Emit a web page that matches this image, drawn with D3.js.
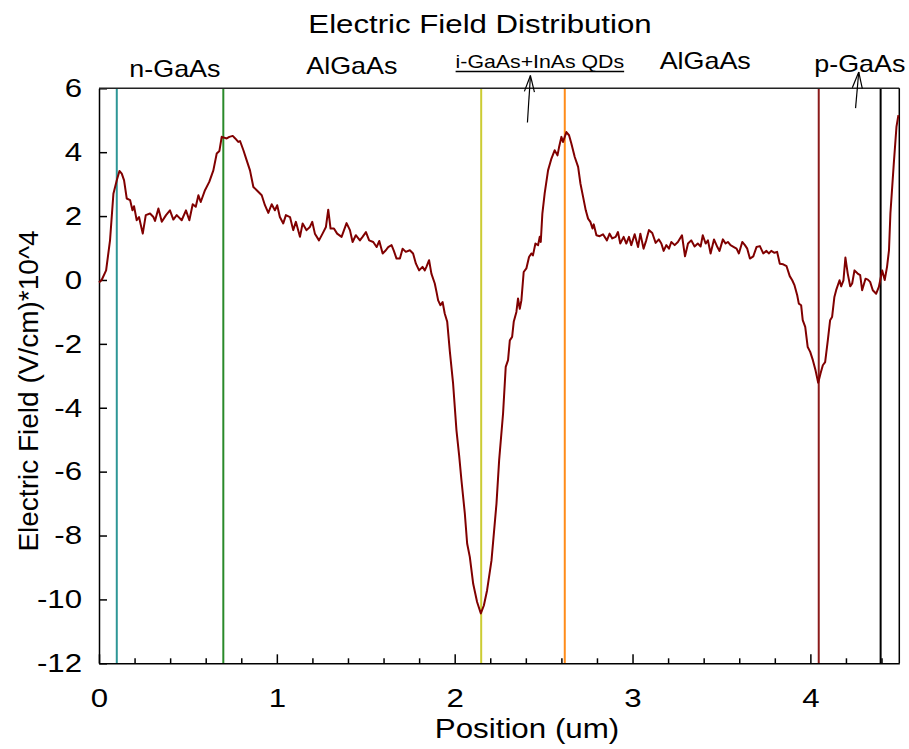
<!DOCTYPE html>
<html>
<head>
<meta charset="utf-8">
<script src="https://cdn.jsdelivr.net/npm/d3@7"></script>
<style>
  html, body { margin: 0; padding: 0; background: #fff; }
  svg text { font-family: "Liberation Sans", Arial, Helvetica, sans-serif; fill: #000; }
</style>
</head>
<body>
<svg id="chart" width="909" height="749"></svg>
<script>
// Electric field profile across the p-i-n stack, position in um, field in 10^4 V/cm
const position = [
  0.000,0.015,0.040,0.062,0.081,0.100,0.115,0.128,0.141,0.156,0.175,0.188,0.197,0.212,0.225,0.246,0.263,0.287,0.306,0.315,
  0.334,0.353,0.377,0.399,0.418,0.437,0.465,0.489,0.508,0.527,0.544,0.559,0.572,0.596,0.620,0.643,0.662,0.677,0.690,0.718,
  0.733,0.752,0.766,0.783,0.793,0.812,0.830,0.849,0.868,0.887,0.915,0.933,0.952,0.971,0.989,1.002,1.017,1.036,1.051,1.074,
  1.092,1.107,1.130,1.145,1.167,1.186,1.199,1.214,1.237,1.257,1.276,1.289,1.302,1.321,1.339,1.364,1.392,1.411,1.426,1.444,
  1.467,1.482,1.501,1.519,1.542,1.561,1.576,1.595,1.613,1.626,1.645,1.658,1.673,1.692,1.707,1.725,1.748,1.766,1.782,1.800,
  1.819,1.832,1.841,1.856,1.869,1.888,1.898,1.907,1.920,1.932,1.944,1.958,1.973,1.991,2.010,2.025,2.038,2.057,2.070,2.085,
  2.104,2.126,2.147,2.164,2.182,2.207,2.235,2.250,2.272,2.287,2.300,2.310,2.323,2.332,2.347,2.356,2.366,2.375,2.388,2.403,
  2.418,2.431,2.440,2.454,2.469,2.478,2.484,2.493,2.506,2.525,2.544,2.562,2.578,2.587,2.600,2.609,2.628,2.643,2.656,2.675,
  2.694,2.707,2.722,2.737,2.750,2.763,2.775,2.782,2.797,2.815,2.834,2.856,2.871,2.886,2.905,2.918,2.931,2.950,2.965,2.980,
  2.993,3.012,3.031,3.044,3.062,3.077,3.092,3.111,3.130,3.148,3.162,3.175,3.190,3.205,3.218,3.237,3.255,3.278,3.295,3.312,
  3.330,3.349,3.367,3.383,3.395,3.411,3.424,3.439,3.458,3.477,3.489,3.508,3.523,3.536,3.551,3.570,3.585,3.598,3.617,3.632,
  3.645,3.660,3.679,3.697,3.716,3.735,3.753,3.766,3.780,3.798,3.813,3.828,3.847,3.866,3.884,3.898,3.911,3.926,3.935,3.948,
  3.957,3.971,3.985,3.999,4.014,4.029,4.044,4.057,4.070,4.083,4.098,4.111,4.122,4.135,4.145,4.164,4.173,4.186,4.197,4.210,
  4.224,4.235,4.248,4.266,4.280,4.291,4.310,4.323,4.336,4.351,4.370,4.385,4.404,4.418,4.431,4.442,4.450,4.469,4.484,4.495
];
const field = [
  -0.08,0.00,0.30,1.24,2.70,3.12,3.41,3.33,3.12,2.55,2.50,2.18,2.31,1.87,1.97,1.45,2.03,2.08,1.97,1.85,
  2.24,1.82,2.03,2.18,1.89,2.03,1.87,2.18,1.87,2.37,2.29,2.65,2.44,2.81,3.07,3.43,3.96,4.04,4.48,4.43,
  4.48,4.51,4.43,4.32,4.35,4.06,3.75,3.43,2.91,2.81,2.65,2.34,2.10,2.37,2.18,2.34,1.97,1.77,2.03,1.97,
  1.56,1.82,1.35,1.77,1.56,1.66,1.82,1.45,1.24,1.45,1.66,2.20,1.61,1.61,1.45,1.35,1.78,1.56,1.19,1.40,
  1.24,1.35,1.50,1.24,1.19,1.03,1.22,0.83,0.93,1.03,1.09,0.91,0.67,0.67,0.98,0.88,0.93,0.83,0.51,0.30,
  0.41,0.30,0.41,0.62,0.20,-0.11,-0.38,-0.64,-0.79,-0.69,-1.05,-1.31,-2.25,-3.24,-4.71,-5.49,-6.27,-7.31,-8.25,-8.67,
  -9.51,-10.08,-10.44,-10.19,-9.72,-8.78,-7.00,-5.64,-4.18,-2.72,-2.51,-1.89,-1.78,-1.31,-1.00,-0.58,-0.90,-0.64,0.25,0.36,
  0.72,0.83,0.77,1.14,1.09,1.35,1.19,2.08,2.71,3.43,3.80,4.06,3.90,4.16,4.48,4.32,4.63,4.53,4.27,3.85,
  3.54,3.02,2.60,2.18,1.92,1.82,1.61,1.74,1.40,1.37,1.43,1.24,1.45,1.30,1.35,1.50,1.14,1.35,1.14,1.35,
  1.09,1.43,1.03,1.45,0.98,1.24,1.56,1.47,1.16,1.27,1.14,0.91,1.09,0.98,1.19,1.09,1.19,1.40,0.74,1.14,
  1.24,1.05,1.14,1.05,1.40,1.14,1.24,0.83,1.27,1.03,0.91,1.27,1.14,1.19,1.09,1.03,0.98,0.83,1.19,1.09,
  0.98,0.67,0.74,1.03,1.06,0.83,0.91,0.83,0.91,0.85,0.88,0.51,0.49,0.43,0.12,-0.01,-0.17,-0.48,-0.74,-0.79,
  -1.26,-1.47,-2.10,-2.25,-2.51,-2.83,-3.22,-2.93,-2.67,-2.57,-1.89,-1.26,-1.16,-0.53,-0.32,-0.01,-0.20,-0.01,0.70,0.20,
  -0.20,-0.11,0.30,0.20,0.15,-0.32,0.04,0.01,-0.06,-0.32,-0.43,-0.22,0.30,0.00,0.41,0.93,2.08,3.64,4.79,5.16
];

// Layer interfaces (um) and their marker colours
const interfaces = [0.10, 0.699, 2.149, 2.619, 4.047, 4.395];
const interfaceColors = ["#2e9696", "#2a8a2a", "#cccc33", "#ff8c1a", "#8b1a1a", "#000000"];

// Layer names placed above the plot (x in um, y in field units)
const layerNames = ["n-GaAs", "AlGaAs", "i-GaAs+InAs QDs", "AlGaAs", "p-GaAs"];
const layerNameX = [0.427, 1.422, 2.479, 3.409, 4.278];
const layerNameY = [6.36, 6.45, 6.62, 6.61, 6.50];

// Pointer arrows: tail and head, in data units
const arrowTail = [[2.409, 4.93], [4.254, 5.38]];
const arrowHead = [[2.426, 6.40], [4.272, 6.51]];

const xMajorTicks = [0, 1, 2, 3, 4];
const yTicks = [-12, -10, -8, -6, -4, -2, 0, 2, 4, 6];

const svg = d3.select("#chart");
const x = d3.scaleLinear().domain([0, 4.5]).range([99, 899.3]);
const y = d3.scaleLinear().domain([-12, 6]).range([663.3, 88.3]);

// Stretch a text selection horizontally by factor k
function widen(sel, k) {
  sel.each(function () {
    const len = this.getComputedTextLength();
    d3.select(this).attr("textLength", len * k).attr("lengthAdjust", "spacingAndGlyphs");
  });
}

// Title
svg.append("text")
  .attr("x", 480).attr("y", 33)
  .attr("text-anchor", "middle")
  .style("font-size", "26px")
  .text("Electric Field Distribution")
  .call(widen, 1.2);

// Interface markers
svg.append("g").selectAll("line")
  .data(interfaces)
  .join("line")
  .attr("x1", d => x(d)).attr("x2", d => x(d))
  .attr("y1", y(6)).attr("y2", y(-12))
  .attr("stroke", (d, i) => interfaceColors[i])
  .attr("stroke-width", 2);

// X axis: minor ticks every 0.2 um, labels on whole microns
const xAll = d3.range(0, 23).map(i => i / 5);
const xAxis = d3.axisBottom(x)
  .tickValues(xAll)
  .tickSizeInner(-5)
  .tickSizeOuter(0)
  .tickPadding(25)
  .tickFormat(d => (Math.abs(d - Math.round(d)) < 1e-9 ? d3.format("d")(d) : ""));
const gx = svg.append("g").attr("transform", `translate(0,${y(-12)})`).call(xAxis);
gx.selectAll(".tick line")
  .attr("y2", d => (xMajorTicks.some(m => Math.abs(m - d) < 1e-9) ? -9 : -5))
  .attr("stroke", "#000").attr("stroke-width", 1.5);
gx.select(".domain").attr("stroke", "#000").attr("stroke-width", 1.5);
gx.selectAll(".tick text").style("font-size", "26px").style("font-family", null).call(widen, 1.2);

// Y axis
const yAxis = d3.axisLeft(y)
  .tickValues(yTicks)
  .tickSizeInner(-8)
  .tickSizeOuter(0)
  .tickPadding(17)
  .tickFormat(d3.format("d"));
const gy = svg.append("g").attr("transform", `translate(${x(0)},0)`).call(yAxis);
gy.selectAll(".tick line").attr("stroke", "#000").attr("stroke-width", 1.5);
gy.select(".domain").attr("stroke", "#000").attr("stroke-width", 1.5);
gy.selectAll(".tick text").style("font-size", "26px").style("font-family", null)
  .text(d => d3.format("d")(d).replace("\u2212", "-"))
  .call(widen, 1.2);

// Top and right frame
svg.append("line")
  .attr("x1", x(0)).attr("x2", x(4.5)).attr("y1", y(6)).attr("y2", y(6))
  .attr("stroke", "#222").attr("stroke-width", 1.5);
svg.append("line")
  .attr("x1", x(4.5)).attr("x2", x(4.5)).attr("y1", y(6)).attr("y2", y(-12))
  .attr("stroke", "#000").attr("stroke-width", 1.5);

// Field curve
const line = d3.line()
  .x((d, i) => x(position[i]))
  .y(d => y(d));
svg.append("path")
  .datum(field)
  .attr("d", line)
  .attr("fill", "none")
  .attr("stroke", "#800000")
  .attr("stroke-width", 2)
  .attr("stroke-linejoin", "round");

// Layer names
const names = svg.append("g").selectAll("text")
  .data(layerNames)
  .join("text")
  .attr("x", (d, i) => x(layerNameX[i]))
  .attr("y", (d, i) => y(layerNameY[i]))
  .attr("text-anchor", "middle")
  .style("font-size", d => (d.indexOf("QDs") >= 0 ? "19px" : "24px"))
  .text(d => d);
names.call(widen, 1.12);

// Underline beneath the active-region label
names.filter(d => d.indexOf("QDs") >= 0).each(function () {
  const cx = x(layerNameX[2]);
  const w = +this.getAttribute("textLength");
  svg.append("line")
    .attr("x1", cx - w / 2).attr("x2", cx + w / 2)
    .attr("y1", y(layerNameY[2]) + 3).attr("y2", y(layerNameY[2]) + 3)
    .attr("stroke", "#000").attr("stroke-width", 1.5);
});

// Pointer arrows with open heads
arrowTail.forEach((t, i) => {
  const h = arrowHead[i];
  const x1 = x(t[0]), y1 = y(t[1]), x2 = x(h[0]), y2 = y(h[1]);
  const ang = Math.atan2(y2 - y1, x2 - x1);
  const len = 17, spread = 0.3;
  const g = svg.append("g").attr("stroke", "#000").attr("stroke-width", 1.2).attr("fill", "none");
  g.append("line").attr("x1", x1).attr("y1", y1).attr("x2", x2).attr("y2", y2);
  [-spread, spread].forEach(s => {
    g.append("line")
      .attr("x1", x2).attr("y1", y2)
      .attr("x2", x2 - len * Math.cos(ang + s))
      .attr("y2", y2 - len * Math.sin(ang + s));
  });
});

// Axis titles
svg.append("text")
  .attr("x", 527).attr("y", 738)
  .attr("text-anchor", "middle")
  .style("font-size", "27px")
  .text("Position (um)")
  .call(widen, 1.16);

svg.append("text")
  .attr("transform", "translate(38,391) rotate(-90)")
  .attr("text-anchor", "middle")
  .style("font-size", "28px")
  .text("Electric Field (V/cm)*10^4");
</script>
</body>
</html>
